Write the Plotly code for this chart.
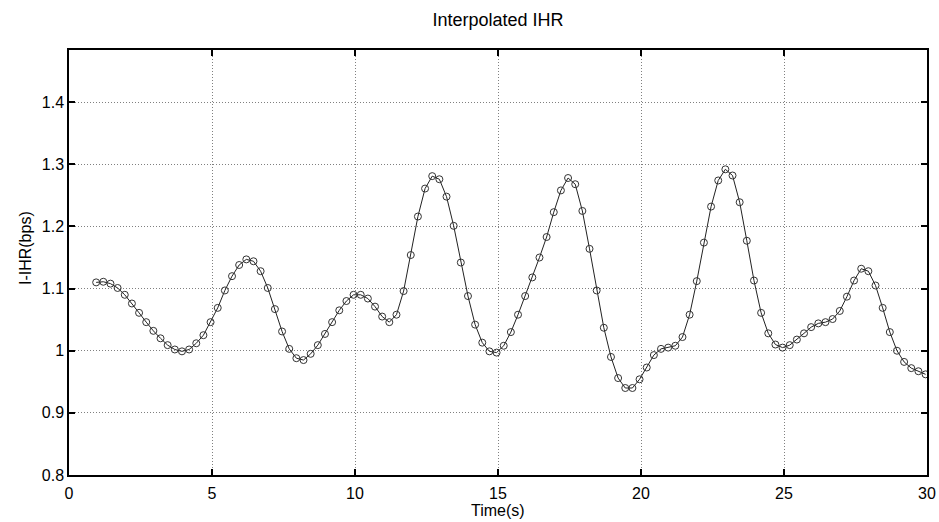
import plotly.graph_objects as go

time_s = [0.95, 1.2, 1.45, 1.7, 1.95, 2.2, 2.45, 2.7, 2.95, 3.2, 3.45, 3.7, 3.95, 4.2, 4.45, 4.7,
          4.95, 5.2, 5.45, 5.7, 5.95, 6.2, 6.45, 6.7, 6.95, 7.2, 7.45, 7.7, 7.95, 8.2, 8.45, 8.7,
          8.95, 9.2, 9.45, 9.7, 9.95, 10.2, 10.45, 10.7, 10.95, 11.2, 11.45, 11.7, 11.95, 12.2,
          12.45, 12.7, 12.95, 13.2, 13.45, 13.7, 13.95, 14.2, 14.45, 14.7, 14.95, 15.2, 15.45,
          15.7, 15.95, 16.2, 16.45, 16.7, 16.95, 17.2, 17.45, 17.7, 17.95, 18.2, 18.45, 18.7,
          18.95, 19.2, 19.45, 19.7, 19.95, 20.2, 20.45, 20.7, 20.95, 21.2, 21.45, 21.7, 21.95,
          22.2, 22.45, 22.7, 22.95, 23.2, 23.45, 23.7, 23.95, 24.2, 24.45, 24.7, 24.95, 25.2,
          25.45, 25.7, 25.95, 26.2, 26.45, 26.7, 26.95, 27.2, 27.45, 27.7, 27.95, 28.2, 28.45,
          28.7, 28.95, 29.2, 29.45, 29.7, 29.95]

ihr_bps = [1.110, 1.111, 1.108, 1.101, 1.090, 1.076, 1.061, 1.046, 1.032, 1.020, 1.009, 1.002,
           0.999, 1.002, 1.012, 1.025, 1.046, 1.069, 1.097, 1.120, 1.138, 1.147, 1.144, 1.128,
           1.101, 1.067, 1.031, 1.003, 0.988, 0.985, 0.995, 1.009, 1.027, 1.046, 1.065, 1.080,
           1.090, 1.090, 1.084, 1.071, 1.055, 1.046, 1.058, 1.096, 1.154, 1.216, 1.261, 1.281,
           1.276, 1.248, 1.201, 1.142, 1.088, 1.042, 1.013, 0.999, 0.997, 1.008, 1.030, 1.058,
           1.088, 1.118, 1.150, 1.183, 1.223, 1.258, 1.278, 1.268, 1.225, 1.164, 1.097, 1.037,
           0.990, 0.956, 0.940, 0.940, 0.954, 0.973, 0.993, 1.003, 1.005, 1.008, 1.022, 1.058,
           1.112, 1.174, 1.232, 1.274, 1.292, 1.282, 1.239, 1.177, 1.113, 1.061, 1.028, 1.010,
           1.005, 1.009, 1.018, 1.028, 1.038, 1.044, 1.046, 1.051, 1.064, 1.087, 1.113, 1.132,
           1.128, 1.105, 1.069, 1.030, 1.000, 0.982, 0.972, 0.967, 0.962]

x_ticks = [0, 5, 10, 15, 20, 25, 30]
y_ticks = [0.8, 0.9, 1.0, 1.1, 1.2, 1.3, 1.4]
y_tick_labels = ["0.8", "0.9", "1", "1.1", "1.2", "1.3", "1.4"]

font_family = "Liberation Sans, Arial, sans-serif"

fig = go.Figure()
fig.add_trace(go.Scatter(
    x=time_s, y=ihr_bps, mode="lines+markers",
    line=dict(color="#222222", width=1),
    marker=dict(symbol="circle-open", size=7, color="#333333", line=dict(width=1)),
    showlegend=False,
))

axis_common = dict(
    showline=True, linecolor="black", linewidth=1.5, mirror="ticks",
    ticks="inside", ticklen=6, tickcolor="black", tickwidth=1.5,
    showgrid=True, gridcolor="#808080", gridwidth=1, griddash="1px,2px",
    zeroline=False, automargin=False,
    tickfont=dict(family=font_family, size=16, color="black"),
)

fig.update_layout(
    width=939, height=522,
    paper_bgcolor="white", plot_bgcolor="white",
    margin=dict(l=69, r=12, t=50, b=47),
    title=dict(text="Interpolated IHR", x=0.5304, xanchor="center", y=0.962, yanchor="middle",
               font=dict(family=font_family, size=18, color="black")),
    xaxis=dict(range=[0, 30], tickvals=x_ticks, ticklabelstandoff=3, **axis_common),
    yaxis=dict(range=[0.8, 1.484], tickvals=y_ticks, ticktext=y_tick_labels,
               ticklabelstandoff=0, **axis_common),
    annotations=[
        dict(text="Time(s)", xref="paper", yref="paper", x=0.5, y=-0.0847,
             xanchor="center", yanchor="middle", showarrow=False,
             font=dict(family=font_family, size=16, color="black")),
        dict(text="I-IHR(bps)", xref="paper", yref="paper", x=-44 / 858, y=0.534,
             xanchor="center", yanchor="middle", textangle=-90, showarrow=False,
             font=dict(family=font_family, size=16, color="black")),
    ],
)

fig.write_html("out.html", config={"displayModeBar": False},
               post_script="document.body.style.margin='0px';")
